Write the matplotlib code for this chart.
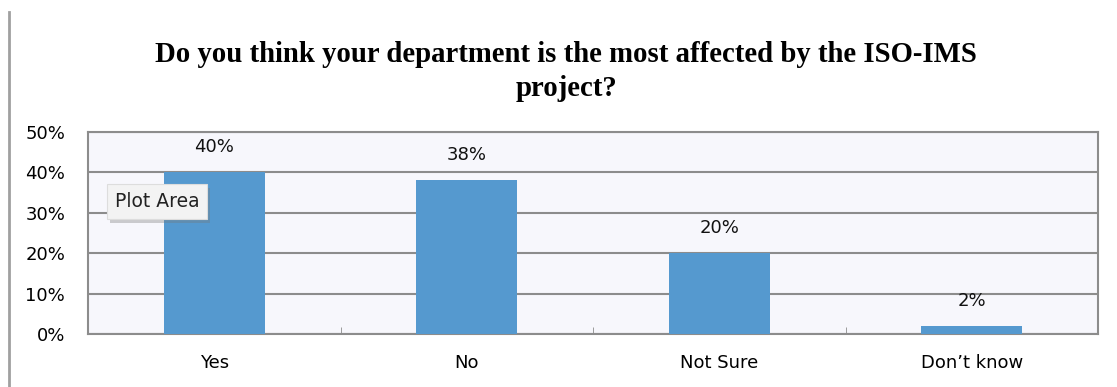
import matplotlib.pyplot as plt
import matplotlib.patheffects as pe
from matplotlib.lines import Line2D
from matplotlib.ticker import PercentFormatter
import numpy as np

categories = ["Yes", "No", "Not Sure", "Don\u2019t know"]
shares = [40, 38, 20, 2]
y_ticks = [0, 10, 20, 30, 40, 50]

bar_color = "#5599CF"
grid_color = "#8C8C8C"

fig = plt.figure(figsize=(11.17, 3.87), dpi=100)
ax = fig.add_axes([0.0788, 0.137, 0.9042, 0.522])
ax.set_facecolor("#F7F7FC")

x = np.arange(len(categories))
bars = ax.bar(x, shares, width=0.4, color=bar_color, zorder=3)

for rect, val in zip(bars, shares):
    ax.annotate(f"{val}%", (rect.get_x() + rect.get_width() / 2, rect.get_height()),
                xytext=(0, 18), textcoords="offset points", ha="center", va="center",
                fontsize=13, color="#111111", zorder=4)

ax.set_xlim(-0.5, len(categories) - 0.5)
ax.set_ylim(0, 50)
ax.set_yticks(y_ticks)
ax.yaxis.set_major_formatter(PercentFormatter(decimals=0))
ax.grid(axis="y", color=grid_color, linewidth=1.5, zorder=1)

# category separators as small inward ticks on the bottom edge
ax.set_xticks(x[:-1] + 0.5, minor=True)
ax.set_xticks(x)
ax.set_xticklabels(categories)
ax.tick_params(axis="x", which="major", length=0, pad=14.5, labelsize=13, labelcolor="#000000")
ax.tick_params(axis="x", which="minor", direction="in", length=5, color=grid_color)
ax.tick_params(axis="y", length=0, pad=16.5, labelsize=13, labelcolor="#000000")

for s in ax.spines.values():
    s.set_color(grid_color)
    s.set_linewidth(1.5)

fig.text(0.507, 0.815, "Do you think your department is the most affected by the ISO-IMS\nproject?",
         ha="center", va="center", family="Liberation Serif", weight="bold",
         fontsize=20.7, linespacing=1.32)

# hover tooltip over the plot area
tip = ax.text(0.0267, 0.655, "Plot Area", transform=ax.transAxes, ha="left", va="center",
              fontsize=13.5, color="#222222", zorder=6,
              bbox=dict(boxstyle="square,pad=0.42", facecolor="#F3F3F3",
                        edgecolor="#DDDDDD", linewidth=0.8))
tip.get_bbox_patch().set_path_effects(
    [pe.SimplePatchShadow(offset=(2, -3), shadow_rgbFace="#777777", alpha=0.35), pe.Normal()])

fig.add_artist(Line2D([9 / 1117, 9 / 1117], [0, 1 - 12 / 387], transform=fig.transFigure,
                      color="#A0A0A0", linewidth=2))

fig.savefig("out.png", dpi=100)
